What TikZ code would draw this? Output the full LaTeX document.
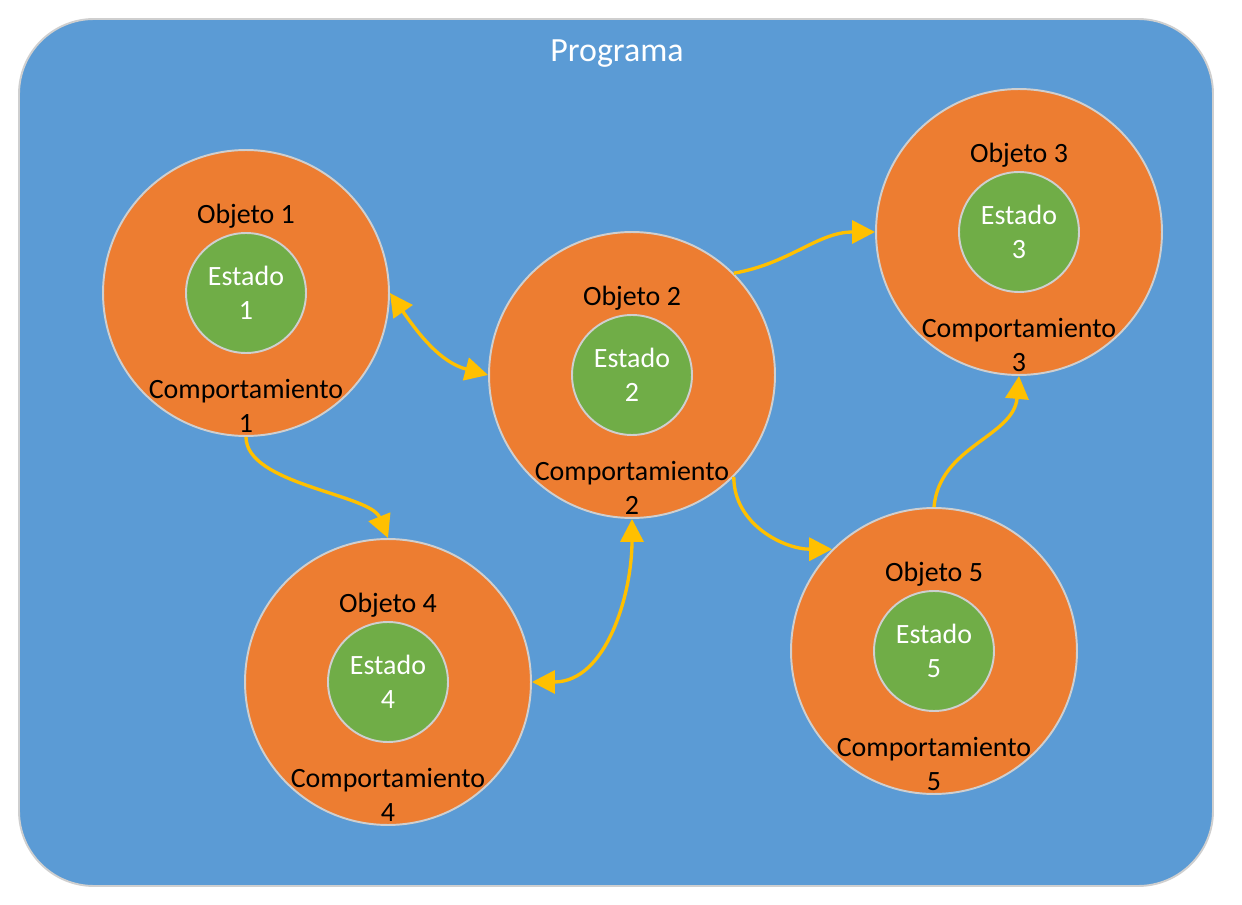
\documentclass[tikz,border=0pt]{standalone}
\usepackage{fontspec}
\setmainfont{Carlito}
\usetikzlibrary{arrows.meta}
\definecolor{azul}{HTML}{5B9BD5}
\definecolor{naranja}{HTML}{ED7D31}
\definecolor{verde}{HTML}{70AD47}
\definecolor{amarillo}{HTML}{FFC000}
\definecolor{borde}{HTML}{CFCFCF}
\begin{document}
\begin{tikzpicture}[x=0.02cm,y=0.02cm,>={Triangle[length=0.46cm,width=0.46cm]},
  every node/.style={font=\fontsize{15.9}{19.5}\selectfont},
  objeto/.style={circle,draw=borde,line width=1.1pt,fill=naranja,minimum size=5.72cm,inner sep=0pt},
  estado/.style={circle,draw=borde,line width=1.1pt,fill=verde,minimum size=2.4cm,text=white,align=center,inner sep=0pt},
  etiqueta/.style={align=center,inner sep=0pt},
  flecha/.style={draw=amarillo,line width=1.9pt}]
  \useasboundingbox (0,0) rectangle (1242,904);
  \draw[borde,fill=azul,line width=1.1pt,rounded corners=1.5cm] (19,18) rectangle (1213,885);
  \node[text=white,font=\fontsize{19.3}{23}\selectfont] (titulo) at (617,850) {Programa};
  % objetos
  \foreach \n/\x/\y in {1/246/611,2/632/529,3/1019/672,4/388/222,5/934/253} {
    \node[objeto] (o\n) at (\x,\y) {};
    \node[estado] (e\n) at (\x,\y) {Estado\\\n};
    \node[etiqueta] (t\n) at (\x,\y+77) {Objeto \n};
    \node[etiqueta] (c\n) at (\x,\y-113) {Comportamiento\\\n};
  }
  % mensajes
  \draw[flecha,<->] (o1.east) to[out=-55,in=165] (o2.west);
  \draw[flecha,->] (o1.south) to[out=-90,in=112,looseness=0.7] (o4.north);
  \draw[flecha,<->] (o2.south) to[out=-90,in=0] (o4.east);
  \draw[flecha,->] (o2.45) to[out=10,in=180] (o3.west);
  \draw[flecha,->] (o2.-45) to[out=-90,in=180] (o5.135);
  \draw[flecha,->] (o5.north) to[out=85,in=-95] (o3.south);
\end{tikzpicture}
\end{document}
